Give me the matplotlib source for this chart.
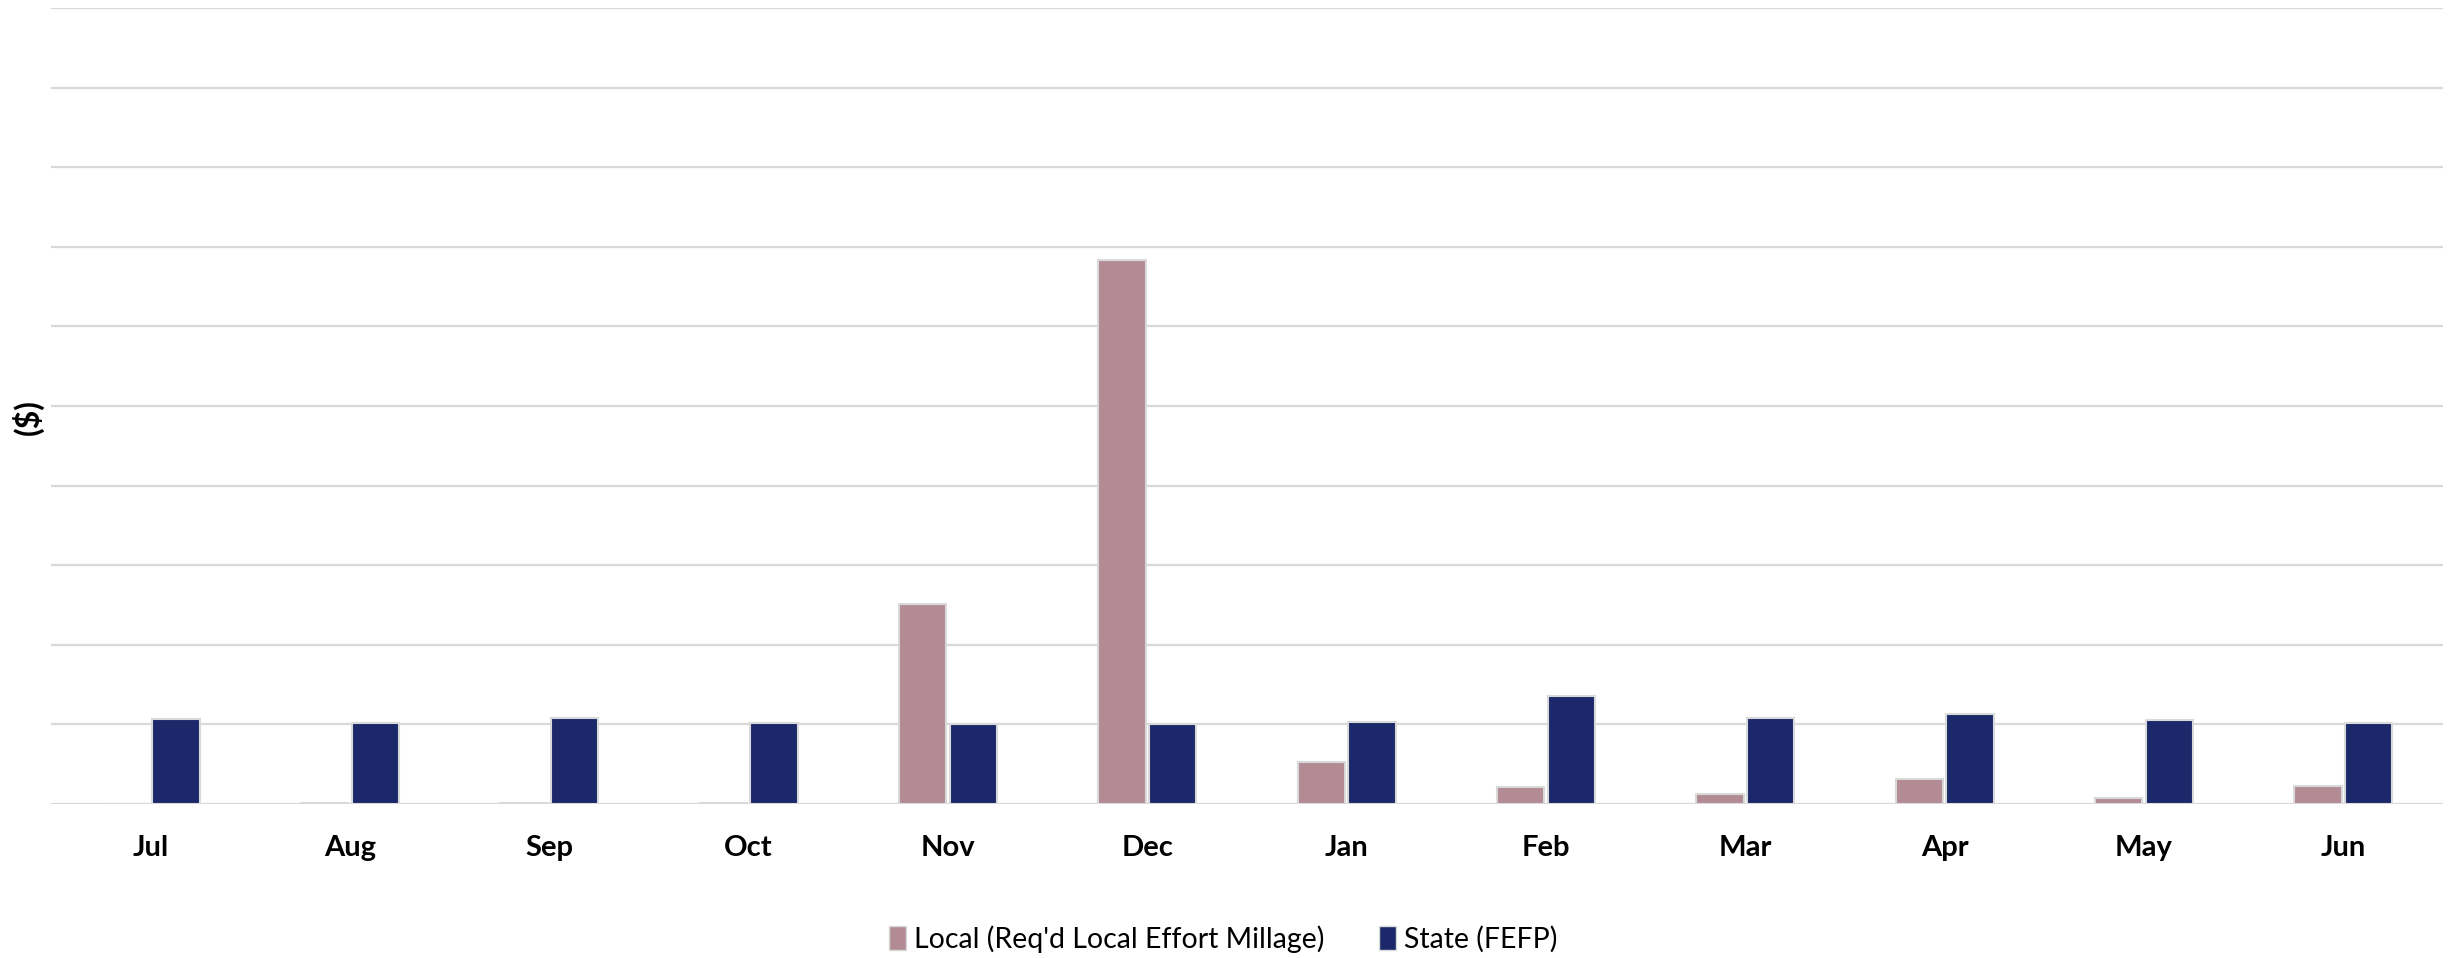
import numpy as np
import matplotlib.pyplot as plt
from matplotlib.patches import Patch

months = ["Jul", "Aug", "Sep", "Oct", "Nov", "Dec",
          "Jan", "Feb", "Mar", "Apr", "May", "Jun"]
# monthly receipts, in grid units (axis has no value labels)
local = [0.0, 0.01, 0.01, 0.01, 2.51, 6.83, 0.53, 0.21, 0.13, 0.31, 0.08, 0.23]
state = [1.07, 1.02, 1.08, 1.02, 1.01, 1.01, 1.03, 1.36, 1.08, 1.13, 1.05, 1.02]

c_local = "#b38b94"
c_state = "#1b296b"
edge = "#d9d9d9"

plt.rcParams['font.family'] = ['Lato', 'DejaVu Sans']

fig = plt.figure(figsize=(24.54, 9.58), dpi=100)
ax = fig.add_axes([0.0208, 0.1608, 0.9747, 0.8309])

x = np.arange(len(months))
w = 0.238
ax.bar(x - 0.127, local, width=w, color=c_local, edgecolor=edge, linewidth=1.5, zorder=3)
ax.bar(x + 0.127, state, width=w, color=c_state, edgecolor=edge, linewidth=1.5, zorder=3)

ax.set_xlim(-0.5, len(months) - 0.5)
ax.set_ylim(0, 10)
ax.set_yticks(np.arange(0, 11, 1))
ax.set_yticklabels([])
ax.yaxis.grid(True, color="#d9d9d9", linewidth=1.6, zorder=0)
ax.tick_params(axis='both', length=0)
for s in ax.spines.values():
    s.set_visible(False)

ax.set_xticks(x)
ax.set_xticklabels(months, fontsize=21, fontweight='bold')
ax.tick_params(axis='x', pad=22)

fig.text(0.0115, 0.565, "($)", rotation=90, fontsize=23, fontweight='bold',
         ha='center', va='center')

handles = [Patch(facecolor=c_local, edgecolor=edge, label="Local (Req'd Local Effort Millage)"),
           Patch(facecolor=c_state, edgecolor=edge, label="State (FEFP)")]
fig.legend(handles=handles, loc='center', bbox_to_anchor=(0.4985, 0.02), ncol=2,
           frameon=False, fontsize=20.5, handlelength=0.6, handleheight=0.9,
           handletextpad=0.3, columnspacing=1.9)

fig.savefig("out.png", dpi=100)
